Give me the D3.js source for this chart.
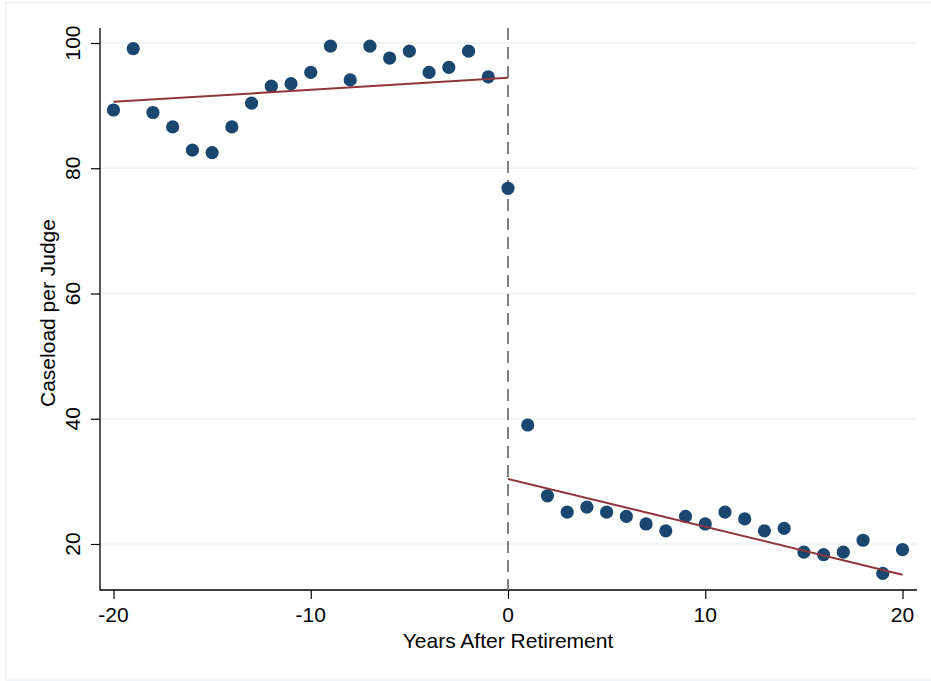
<!DOCTYPE html>
<html>
<head>
<meta charset="utf-8">
<script src="https://cdn.jsdelivr.net/npm/d3@7"></script>
<style>
  html, body { margin: 0; padding: 0; background: #ffffff; }
  svg { display: block; font-family: "Liberation Sans", Arial, Helvetica, sans-serif; }
</style>
</head>
<body>
<script>
// ---- Data ----
const years = [-20,-19,-18,-17,-16,-15,-14,-13,-12,-11,-10,-9,-8,-7,-6,-5,-4,-3,-2,-1,0,
               1,2,3,4,5,6,7,8,9,10,11,12,13,14,15,16,17,18,19,20];
const caseload = [89.3,99.1,88.9,86.6,82.9,82.5,86.6,90.4,93.1,93.5,95.3,99.5,94.1,99.5,97.6,98.7,95.3,96.1,98.7,94.6,76.8,
                  39.0,27.7,25.1,25.9,25.1,24.4,23.2,22.1,24.4,23.2,25.1,24.0,22.1,22.5,18.7,18.3,18.7,20.6,15.3,19.1];
const fitPre = [[-20, 90.6], [0, 94.45]];
const fitPost = [[0, 30.4], [20, 15.1]];
const xTicks = [-20, -10, 0, 10, 20];
const yTicks = [20, 40, 60, 80, 100];
const xTitle = "Years After Retirement";
const yTitle = "Caseload per Judge";
const cutoff = 0;

// ---- Layout ----
const W = 931, H = 681;
const plot = { left: 100, right: 917, top: 28, bottom: 590 };
const FS = 21;

const svg = d3.select("body").append("svg").attr("width", W).attr("height", H);

// outer faint frame
svg.append("rect").attr("x", 6).attr("y", 2.5).attr("width", W + 10).attr("height", 677.5)
  .attr("fill", "#ffffff").attr("stroke", "#eaf0f2").attr("stroke-width", 1.2);

const x = d3.scaleLinear().domain([-20, 20]).range([113.5, 902.5]);
const y = d3.scaleLinear().domain([20, 100]).range([544, 43]);

// gridlines
svg.append("g").selectAll("line").data(yTicks).join("line")
  .attr("x1", plot.left).attr("x2", plot.right)
  .attr("y1", d => y(d)).attr("y2", d => y(d))
  .attr("stroke", "#eaf2f3").attr("stroke-width", 1.6);

// y axis
const yAxis = svg.append("g").attr("transform", `translate(${plot.left},0)`)
  .call(d3.axisLeft(y).tickValues(yTicks).tickSize(9).tickSizeOuter(0).tickFormat(d3.format("d")));
yAxis.select(".domain").remove();
yAxis.selectAll(".tick line").attr("stroke", "#000").attr("stroke-width", 1.2);
yAxis.selectAll(".tick text").remove();
svg.append("line").attr("x1", plot.left).attr("x2", plot.left)
  .attr("y1", plot.top).attr("y2", plot.bottom + 0.5).attr("stroke", "#000").attr("stroke-width", 1.3);
svg.append("g").selectAll("text").data(yTicks).join("text")
  .attr("transform", d => `translate(80,${y(d)}) rotate(-90)`)
  .attr("text-anchor", "middle").attr("font-size", FS).attr("fill", "#000")
  .text(d => d3.format("d")(d));

// x axis
const xAxis = svg.append("g").attr("transform", `translate(0,${plot.bottom})`)
  .call(d3.axisBottom(x).tickValues(xTicks).tickSize(9).tickSizeOuter(0).tickFormat(d3.format("d")));
xAxis.select(".domain").remove();
xAxis.selectAll(".tick line").attr("stroke", "#000").attr("stroke-width", 1.2);
xAxis.selectAll(".tick text").remove();
svg.append("line").attr("x1", plot.left).attr("x2", plot.right)
  .attr("y1", plot.bottom).attr("y2", plot.bottom).attr("stroke", "#000").attr("stroke-width", 1.3);
svg.append("g").selectAll("text").data(xTicks).join("text")
  .attr("x", d => x(d)).attr("y", 622)
  .attr("text-anchor", "middle").attr("font-size", FS).attr("fill", "#000")
  .text(d => d3.format("d")(d).replace("−", "-"));

// titles
svg.append("text").attr("x", 508).attr("y", 648)
  .attr("text-anchor", "middle").attr("font-size", FS).attr("fill", "#000").text(xTitle);
svg.append("text").attr("transform", `translate(55,${(plot.top + plot.bottom) / 2 + 4}) rotate(-90)`)
  .attr("text-anchor", "middle").attr("font-size", FS).attr("fill", "#000").text(yTitle);

// cutoff dashed line
svg.append("line").attr("x1", x(cutoff)).attr("x2", x(cutoff))
  .attr("y1", plot.top).attr("y2", plot.bottom)
  .attr("stroke", "#808080").attr("stroke-width", 2).attr("stroke-dasharray", "12,7");

// points
svg.append("g").selectAll("circle").data(years.map((d, i) => [d, caseload[i]])).join("circle")
  .attr("cx", d => x(d[0])).attr("cy", d => y(d[1])).attr("r", 6.6)
  .attr("fill", "#1a476f");

// fit lines
const line = d3.line().x(d => x(d[0])).y(d => y(d[1]));
[fitPre, fitPost].forEach(seg => {
  svg.append("path").attr("d", line(seg)).attr("fill", "none")
    .attr("stroke", "#90353b").attr("stroke-width", 2);
});
</script>
</body>
</html>
